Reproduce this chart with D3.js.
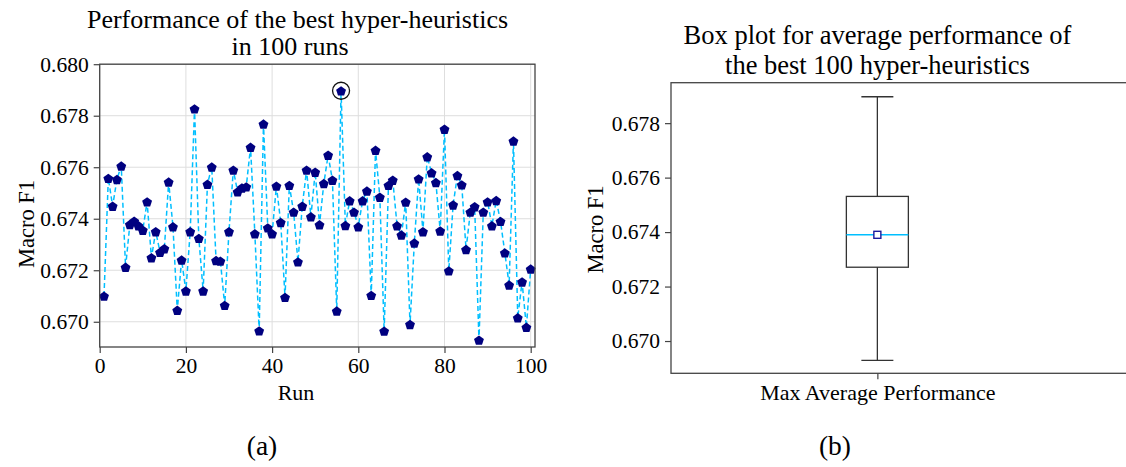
<!DOCTYPE html>
<html>
<head>
  <title>Hyper-heuristics performance</title>
  <script src="https://d3js.org/d3.v7.min.js"></script>
  <style>
    body { margin: 0; background: #fff; }
    text { font-family: "Liberation Serif", "DejaVu Serif", serif; fill: #000; }
    .grid line { stroke: #dedede; stroke-width: 1; }
    .frame { fill: none; stroke: #444; stroke-width: 1.3; }
    .axis path { display: none; }
    .axis line { stroke: #444; stroke-width: 1.2; }
    .axis text { font-size: 21.5px; }
  </style>
</head>
<body>
  <svg id="chart" width="1126" height="467"></svg>

  <script>
    // Macro F1 of the best hyper-heuristic in each run (1..100)
    const runs = d3.range(1, 101);
    const macroF1 = [
      0.67100, 0.67557, 0.67449, 0.67553, 0.67605, 0.67212, 0.67378, 0.67391, 0.67373, 0.67356,
      0.67466, 0.67249, 0.67350, 0.67270, 0.67284, 0.67543, 0.67369, 0.67045, 0.67240, 0.67120,
      0.67350, 0.67827, 0.67324, 0.67120, 0.67534, 0.67601, 0.67238, 0.67236, 0.67064, 0.67350,
      0.67589, 0.67505, 0.67520, 0.67524, 0.67678, 0.67342, 0.66965, 0.67768, 0.67365, 0.67342,
      0.67527, 0.67386, 0.67095, 0.67530, 0.67426, 0.67233, 0.67449, 0.67589, 0.67408, 0.67581,
      0.67377, 0.67537, 0.67647, 0.67550, 0.67042, 0.67897, 0.67374, 0.67470, 0.67426, 0.67369,
      0.67470, 0.67508, 0.67103, 0.67666, 0.67484, 0.66964, 0.67530, 0.67550, 0.67373, 0.67337,
      0.67465, 0.66990, 0.67306, 0.67555, 0.67350, 0.67641, 0.67579, 0.67541, 0.67353, 0.67748,
      0.67198, 0.67454, 0.67568, 0.67532, 0.67281, 0.67426, 0.67447, 0.66929, 0.67426, 0.67466,
      0.67373, 0.67471, 0.67390, 0.67268, 0.67143, 0.67702, 0.67016, 0.67155, 0.66979, 0.67205
    ];
    const bestRun = 56;

    const xTicks = [0, 20, 40, 60, 80, 100];
    const yTicksLeft = [0.670, 0.672, 0.674, 0.676, 0.678, 0.680];
    const yTicksRight = [0.670, 0.672, 0.674, 0.676, 0.678];

    // box plot statistics
    const boxLabel = "Max Average Performance";
    const boxStats = { min: 0.66929, q1: 0.67271, median: 0.67390, q3: 0.67531, max: 0.67897, mean: 0.67390 };

    const serif = '"Liberation Serif", "DejaVu Serif", serif';
    const svg = d3.select("#chart");

    function label(g, txt, x, y, size, rot) {
      const t = g.append("text").attr("text-anchor", "middle").style("font-size", size + "px").text(txt);
      if (rot) t.attr("transform", `translate(${x},${y}) rotate(-90)`);
      else t.attr("x", x).attr("y", y);
      return t;
    }

    // ---------- panel (a) ----------
    const x = d3.scaleLinear().domain([0, 101]).range([99.7, 535]);
    const y = d3.scaleLinear().domain([0.66902, 0.680]).range([347, 64.2]);

    const a = svg.append("g");

    a.append("g").attr("class", "grid")
      .selectAll("line").data(xTicks).enter().append("line")
      .attr("x1", d => x(d)).attr("x2", d => x(d))
      .attr("y1", y.range()[0]).attr("y2", y.range()[1]);
    a.append("g").attr("class", "grid")
      .selectAll("line").data(yTicksLeft).enter().append("line")
      .attr("x1", x.range()[0]).attr("x2", x.range()[1])
      .attr("y1", d => y(d)).attr("y2", d => y(d));

    a.append("g").attr("class", "axis")
      .attr("transform", `translate(0,${y.range()[0]})`)
      .call(d3.axisBottom(x).tickValues(xTicks).tickFormat(d3.format("d")).tickSize(6).tickPadding(5))
      .attr("font-family", serif);
    a.append("g").attr("class", "axis")
      .attr("transform", `translate(${x.range()[0]},0)`)
      .call(d3.axisLeft(y).tickValues(yTicksLeft).tickFormat(d3.format(".3f")).tickSize(6).tickPadding(5))
      .attr("font-family", serif);

    const line = d3.line().x((d, i) => x(runs[i])).y(d => y(d));
    a.append("path")
      .datum(macroF1)
      .attr("d", line)
      .attr("fill", "none")
      .attr("stroke", "#00bfff")
      .attr("stroke-width", 1.5)
      .attr("stroke-dasharray", "5,3");

    // pentagon marker
    const pent = d3.range(5).map(k => {
      const t = -Math.PI / 2 + k * 2 * Math.PI / 5;
      return [5.2 * Math.cos(t), 5.2 * Math.sin(t) + 0.6];
    });
    const pentPath = "M" + pent.map(p => p.join(",")).join("L") + "Z";

    a.append("g").selectAll("path").data(macroF1).enter().append("path")
      .attr("d", pentPath)
      .attr("transform", (d, i) => `translate(${x(runs[i])},${y(d)})`)
      .attr("fill", "#000080");

    a.append("circle")
      .attr("cx", x(bestRun))
      .attr("cy", y(macroF1[bestRun - 1]))
      .attr("r", 8.5)
      .attr("fill", "none")
      .attr("stroke", "#111")
      .attr("stroke-width", 1.3);

    a.append("rect").attr("class", "frame")
      .attr("x", x.range()[0]).attr("y", y.range()[1])
      .attr("width", x.range()[1] - x.range()[0])
      .attr("height", y.range()[0] - y.range()[1]);

    label(a, "Performance of the best hyper-heuristics", 297.5, 28, 26);
    label(a, "in 100 runs", 290, 55, 26);
    label(a, "Run", 296, 400, 22);
    label(a, "Macro F1", 34, 224, 22.5, true);
    label(a, "(a)", 262, 455, 27.5);

    // ---------- panel (b) ----------
    const bx = d3.scaleLinear().domain([0.5, 1.6]).range([671, 1125]);
    const by = d3.scaleLinear().domain([0.668815, 0.679485]).range([373.3, 82.7]);

    const b = svg.append("g");

    b.append("g").attr("class", "axis")
      .attr("transform", `translate(${bx.range()[0]},0)`)
      .call(d3.axisLeft(by).tickValues(yTicksRight).tickFormat(d3.format(".3f")).tickSize(6).tickPadding(5))
      .attr("font-family", serif);
    b.append("g").attr("class", "axis")
      .attr("transform", `translate(0,${by.range()[0]})`)
      .call(d3.axisBottom(bx).tickValues([1]).tickFormat(() => boxLabel).tickSize(6).tickPadding(5))
      .attr("font-family", serif)
      .selectAll("text").style("font-size", "22px");

    const c = bx(1), half = 31, capHalf = 16;
    const wh = b.append("g").attr("stroke", "#333").attr("stroke-width", 1.3);
    wh.append("line").attr("x1", c).attr("x2", c).attr("y1", by(boxStats.max)).attr("y2", by(boxStats.q3));
    wh.append("line").attr("x1", c).attr("x2", c).attr("y1", by(boxStats.q1)).attr("y2", by(boxStats.min));
    wh.append("line").attr("x1", c - capHalf).attr("x2", c + capHalf).attr("y1", by(boxStats.max)).attr("y2", by(boxStats.max));
    wh.append("line").attr("x1", c - capHalf).attr("x2", c + capHalf).attr("y1", by(boxStats.min)).attr("y2", by(boxStats.min));
    wh.append("rect").attr("x", c - half).attr("width", 2 * half)
      .attr("y", by(boxStats.q3)).attr("height", by(boxStats.q1) - by(boxStats.q3))
      .attr("fill", "none");

    b.append("line").attr("x1", c - half).attr("x2", c + half)
      .attr("y1", by(boxStats.median)).attr("y2", by(boxStats.median))
      .attr("stroke", "#00bfff").attr("stroke-width", 1.6);
    b.append("rect").attr("x", c - 3.5).attr("y", by(boxStats.mean) - 3.5)
      .attr("width", 7).attr("height", 7)
      .attr("fill", "#fff").attr("stroke", "#1a1a9c").attr("stroke-width", 1.4);

    b.append("rect").attr("class", "frame")
      .attr("x", bx.range()[0]).attr("y", by.range()[1])
      .attr("width", 470)
      .attr("height", by.range()[0] - by.range()[1]);

    label(b, "Box plot for average performance of", 877.5, 44, 26.5);
    label(b, "the best 100 hyper-heuristics", 877.5, 74, 26.5);
    label(b, "Macro F1", 603, 229.5, 22.5, true);
    label(b, "(b)", 835, 455, 27.5);
  </script>
</body>
</html>
